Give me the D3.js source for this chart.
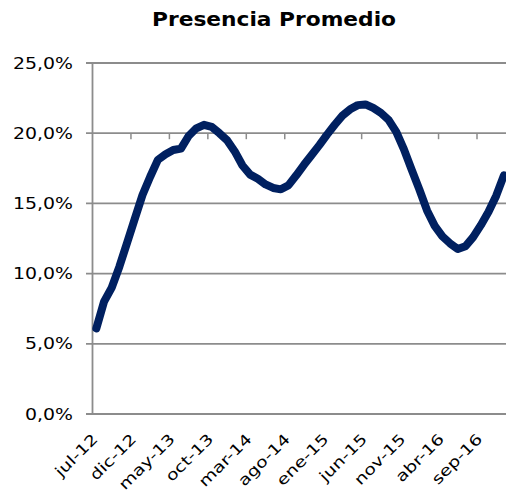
<!DOCTYPE html>
<html>
<head>
<meta charset="utf-8">
<script src="https://cdn.jsdelivr.net/npm/d3@7"></script>
<style>
  body { margin: 0; background: #fff; }
  text { font-family: "DejaVu Sans", Verdana, sans-serif; fill: #000; }
</style>
</head>
<body>
<div id="chart"></div>
<script>
// Presencia Promedio - monthly series jul-12 .. dic-16
const meses = ["ene", "feb", "mar", "abr", "may", "jun", "jul", "ago", "sep", "oct", "nov", "dic"];
const categorias = [];
for (let k = 0; k < 54; k++) {
    const m = (6 + k) % 12;
    const a = 12 + Math.floor((6 + k) / 12);
    categorias.push(meses[m] + "-" + a);
}

const valores = [
    6.1, 8.0, 9.0, 10.5, 12.2, 13.9, 15.6, 16.9, 18.1, 18.5,
    18.8, 18.9, 19.8, 20.35, 20.6, 20.45, 20.0, 19.5, 18.7, 17.7,
    17.05, 16.75, 16.35, 16.1, 16.0, 16.3, 17.0, 17.75, 18.45, 19.15,
    19.9, 20.6, 21.25, 21.7, 22.0, 22.05, 21.8, 21.45, 20.95, 20.1,
    18.85, 17.4, 16.0, 14.5, 13.4, 12.65, 12.15, 11.75, 11.95, 12.6,
    13.45, 14.4, 15.55, 17.0
];

const yTicks = [0, 5, 10, 15, 20, 25];
const etiquetasX = ["jul-12", "dic-12", "may-13", "oct-13", "mar-14", "ago-14",
                    "ene-15", "jun-15", "nov-15", "abr-16", "sep-16"];

const width = 506, height = 495;
const plot = { left: 92.5, top: 63, bottom: 414 };
const step = 7.69;

const svg = d3.select("#chart").append("svg")
    .attr("width", width)
    .attr("height", height);

const x = d3.scaleBand()
    .domain(categorias)
    .range([plot.left, plot.left + categorias.length * step]);

const y = d3.scaleLinear()
    .domain([0, 25])
    .range([plot.bottom, plot.top]);

// gridlines
svg.selectAll(".grid")
    .data(yTicks)
    .enter().append("line")
    .attr("class", "grid")
    .attr("x1", plot.left - 6.5)
    .attr("x2", width)
    .attr("y1", d => y(d))
    .attr("y2", d => y(d))
    .attr("stroke", "#8c8c8c")
    .attr("stroke-width", 1.8);

// vertical axis line
svg.append("line")
    .attr("x1", plot.left).attr("x2", plot.left)
    .attr("y1", y(25)).attr("y2", y(0))
    .attr("stroke", "#8c8c8c")
    .attr("stroke-width", 1.8);

// horizontal axis crosses at 20%, ticks every 5 categories
const tickCats = categorias.filter((d, i) => i % 5 === 0 && i > 0);
svg.selectAll(".xtick")
    .data(tickCats)
    .enter().append("line")
    .attr("class", "xtick")
    .attr("x1", d => x(d)).attr("x2", d => x(d))
    .attr("y1", y(20)).attr("y2", y(20) + 6)
    .attr("stroke", "#8c8c8c")
    .attr("stroke-width", 1.5);

// y labels
svg.selectAll(".ylab")
    .data(yTicks)
    .enter().append("text")
    .attr("class", "ylab")
    .attr("transform", d => `translate(73,${y(d) + 5.5}) scale(1.26,1)`)
    .attr("text-anchor", "end")
    .style("font-size", "15px")
    .text(d => d.toFixed(1).replace(".", ",") + "%");

// x labels
svg.selectAll(".xlab")
    .data(etiquetasX)
    .enter().append("text")
    .attr("class", "xlab")
    .attr("transform", d => `translate(${x(d) + x.bandwidth() / 2 + 2.5},440) rotate(-45) scale(1.26,1)`)
    .attr("text-anchor", "end")
    .style("font-size", "15px")
    .text(d => d);

// line
const linea = d3.line()
    .x((d, i) => x(categorias[i]) + x.bandwidth() / 2)
    .y(d => y(d));

svg.append("path")
    .datum(valores)
    .attr("d", linea)
    .attr("fill", "none")
    .attr("stroke", "#002060")
    .attr("stroke-width", 8)
    .attr("stroke-linejoin", "round")
    .attr("stroke-linecap", "round");

// title
svg.append("text")
    .attr("transform", "translate(274,26) scale(1.11,1)")
    .attr("text-anchor", "middle")
    .style("font-size", "19.6px")
    .style("font-weight", "bold")
    .text("Presencia Promedio");
</script>
</body>
</html>
